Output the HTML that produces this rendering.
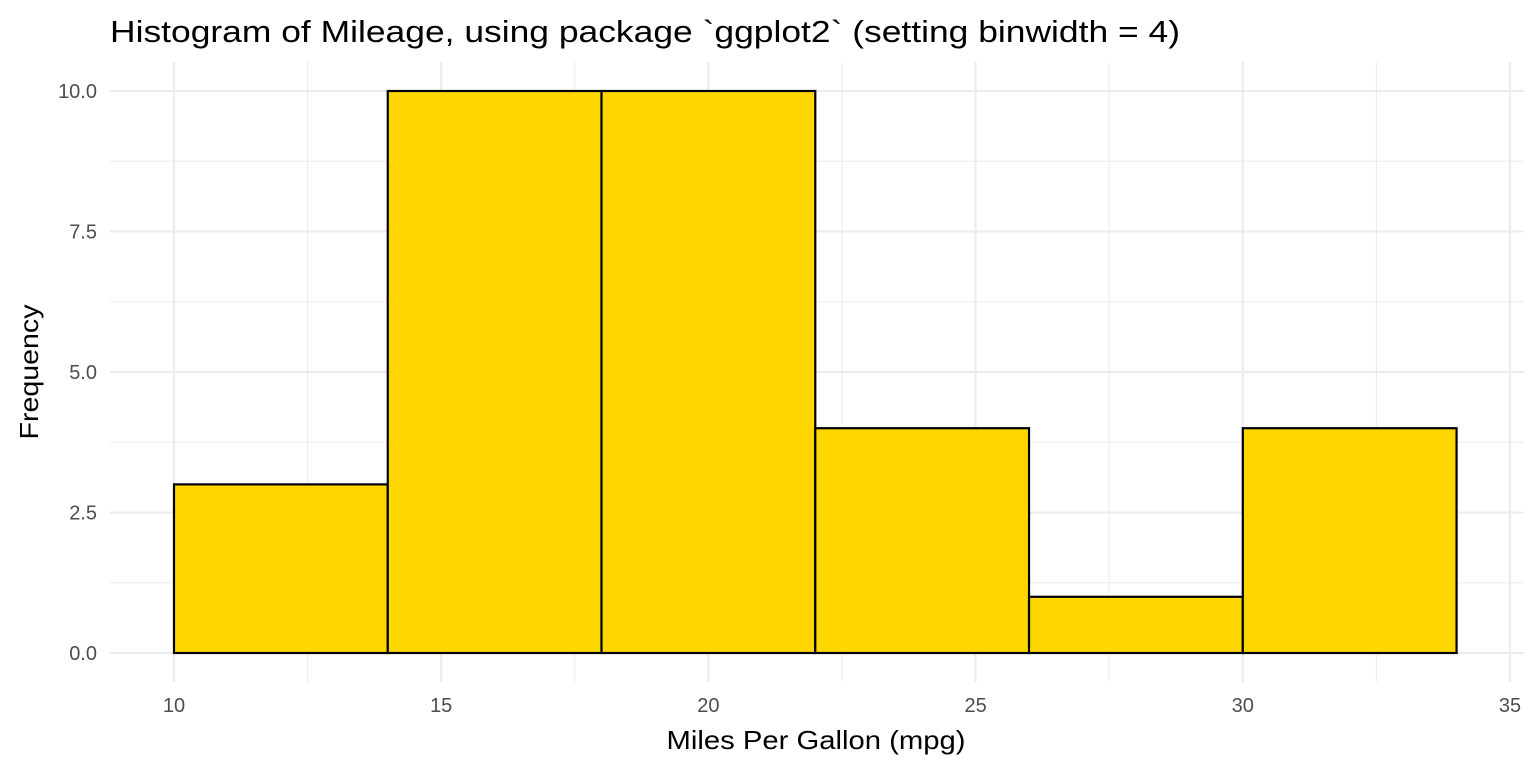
<!DOCTYPE html>
<html><head><meta charset="utf-8"><style>
html,body{margin:0;padding:0;background:#fff;}
svg{display:block;font-family:"Liberation Sans",sans-serif;}
</style></head><body>
<svg id="chart" width="1536" height="768" xmlns="http://www.w3.org/2000/svg">
<text x="110" y="42" font-size="31" textLength="1070" lengthAdjust="spacingAndGlyphs" fill="#000">Histogram of Mileage, using package `ggplot2` (setting binwidth = 4)</text>
<g id="grid"></g>
<g id="bars"></g>
<g id="xticks"></g>
<g id="yticks"></g>
<text x="816" y="749" font-size="26" textLength="299" lengthAdjust="spacingAndGlyphs" text-anchor="middle" fill="#000">Miles Per Gallon (mpg)</text>
<text transform="translate(38,372) rotate(-90)" font-size="26" textLength="135" lengthAdjust="spacingAndGlyphs" text-anchor="middle" fill="#000">Frequency</text>
</svg>
<script>
const binStarts=[10,14,18,22,26,30];
const binWidth=4;
const counts=[3,10,10,4,1,4];
const xTicks=[10,15,20,25,30,35];
const yTicks=[0,2.5,5,7.5,10];
const yTickLabels=["0.0","2.5","5.0","7.5","10.0"];
const NS="http://www.w3.org/2000/svg";
function X(v){return 174+(v-10)*53.44;}
function Y(v){return 653-v*56.2;}
const L=110,R=1524,T=62,B=682;
function mk(t,a,p){const e=document.createElementNS(NS,t);for(const k in a)e.setAttribute(k,a[k]);p.appendChild(e);return e;}
const grid=document.getElementById('grid');
for(let v=7.5;v<=37.5;v+=2.5){const x=X(v);if(x<L||x>R)continue;const major=v%5===0;
 const l=mk('line',{x1:x,x2:x,y1:T,y2:B,stroke:'#ebebeb','stroke-width':major?2:1},grid);
 
 }
for(let v=-1.25;v<=11.25;v+=1.25){const y=Y(v);if(y<T||y>B)continue;const major=Math.abs(v%2.5)<1e-9;
 const l=mk('line',{x1:L,x2:R,y1:y,y2:y,stroke:'#ebebeb','stroke-width':major?2:1},grid);
 
 }
const bars=document.getElementById('bars');
binStarts.forEach((s,i)=>{const x0=X(s),x1=X(s+binWidth),y=Y(counts[i]);
 const r=mk('rect',{x:x0,y:y,width:x1-x0,height:Y(0)-y,fill:'#FFD700',stroke:'#000','stroke-width':2.2},bars);
 
 });
const xt=document.getElementById('xticks');
xTicks.forEach(v=>{const t=mk('text',{x:X(v),y:712,'font-size':20,'text-anchor':'middle',fill:'#4d4d4d'},xt);t.textContent=v;
 
 });
const yt=document.getElementById('yticks');
yTicks.forEach((v,i)=>{const t=mk('text',{x:97,y:Y(v)+7,'font-size':20,'text-anchor':'end',fill:'#4d4d4d'},yt);t.textContent=yTickLabels[i];
 
 });
</script>
</body></html>
